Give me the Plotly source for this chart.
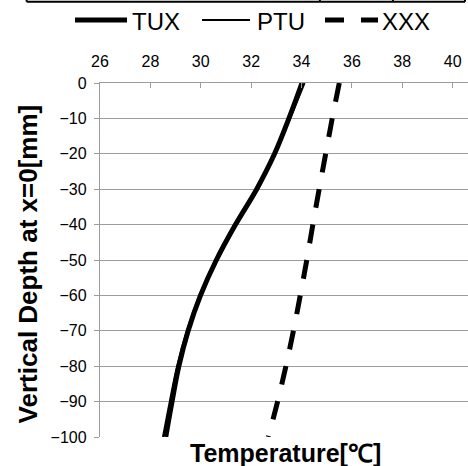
import plotly.graph_objects as go

# ---- data ----
depth = [0, -10, -20, -30, -40, -50, -60, -70, -80, -90, -100]
tux = [34.02, 33.50, 32.93, 32.22, 31.38, 30.62, 29.99, 29.50, 29.13, 28.86, 28.61]
ptu = [34.12, 33.55, 32.96, 32.24, 31.38, 30.60, 29.95, 29.45, 29.06, 28.77, 28.50]
xxx = [35.50, 35.22, 34.96, 34.70, 34.45, 34.21, 33.95, 33.68, 33.38, 33.05, 32.68]
series_names = ["TUX", "PTU", "XXX"]
x_ticks = [26, 28, 30, 32, 34, 36, 38, 40]
y_ticks = [0, -10, -20, -30, -40, -50, -60, -70, -80, -90, -100]

FONT = "Liberation Sans, Arial, sans-serif"
GRID = "#9c9c9c"

styles = [
    dict(color="black", width=5),
    dict(color="black", width=2),
    dict(color="black", width=5, dash="19px,17px"),
]

fig = go.Figure()
for name, xs, st in zip(series_names, [tux, ptu, xxx], styles):
    fig.add_trace(go.Scatter(x=xs, y=depth, mode="lines", name=name,
                             line=dict(shape="spline", **st)))

# legend drawn as line samples + labels (paper coordinates), Excel-like long samples
leg_y = 1.178
leg_samples = [(-0.0679, 0.0734), (0.2772, 0.4076), (0.6114, 0.7554)]
leg_text_x = [0.0815, 0.4212, 0.7609]
shapes = []
annotations = []
for name, (x0, x1), tx, st in zip(series_names, leg_samples, leg_text_x, styles):
    shapes.append(dict(type="line", xref="paper", yref="paper", x0=x0, x1=x1,
                       y0=leg_y, y1=leg_y, line=st))
    annotations.append(dict(text=name, xref="paper", yref="paper", x=tx, y=leg_y - 0.003,
                            xanchor="left", yanchor="middle", showarrow=False,
                            font=dict(size=24, family=FONT)))

# top border of cropped table above the chart
ty0, ty1 = 1.2295, 1.24
shapes.append(dict(type="line", xref="paper", yref="paper", x0=-0.1993, x1=0.9918,
                   y0=ty0, y1=ty0, line=dict(color="black", width=2)))
for vx in [-0.1993, 0.5975, 0.796, 0.9918]:
    shapes.append(dict(type="line", xref="paper", yref="paper", x0=vx, x1=vx,
                       y0=ty0, y1=ty1, line=dict(color="black", width=2)))

annotations += [
    dict(text="<b>Temperature[℃]</b>", xref="paper", yref="paper",
         x=0.505, y=-0.044, xanchor="center", yanchor="middle", showarrow=False,
         font=dict(size=25, family=FONT)),
    dict(text="<b>Vertical Depth at x=0[mm]</b>", xref="paper", yref="paper",
         x=-0.196, y=0.49, xanchor="center", yanchor="middle", showarrow=False,
         textangle=-90, font=dict(size=26, family=FONT)),
]

fig.update_layout(
    width=468, height=466,
    margin=dict(l=100, r=0, t=83, b=29, pad=0, autoexpand=False),
    paper_bgcolor="white", plot_bgcolor="white",
    font=dict(family=FONT, color="black", size=16),
    showlegend=False,
    xaxis=dict(side="top", range=[26, 40.61], tickvals=x_ticks, ticks="inside",
               ticklen=5, tickcolor=GRID, tickwidth=1.3, showgrid=False,
               showline=True, linecolor=GRID, linewidth=1.3, zeroline=False,
               tickfont=dict(size=16), ticklabelstandoff=8),
    yaxis=dict(range=[-100, 0], tickvals=y_ticks, ticks="outside", ticklen=5,
               tickcolor=GRID, tickwidth=1.3, showgrid=True, gridcolor=GRID,
               gridwidth=1.3, showline=True, linecolor=GRID, linewidth=1.3,
               zeroline=False, tickfont=dict(size=16), ticklabelstandoff=4),
    annotations=annotations,
    shapes=shapes,
)

fig.write_html("out.html", config={"displayModeBar": False},
               post_script="document.body.style.margin='0';document.body.style.overflow='hidden';")
